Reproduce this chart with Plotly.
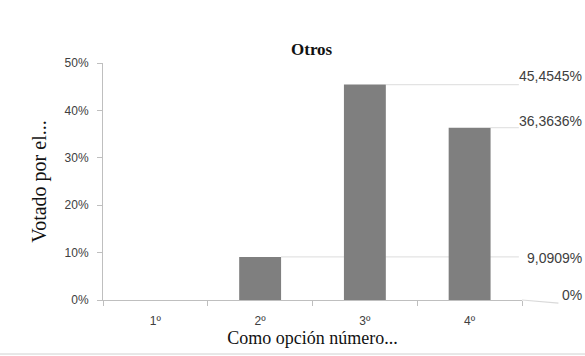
import plotly.graph_objects as go

# Survey result: share of votes for "Otros" by ranking position
categories = ["1º", "2º", "3º", "4º"]
shares = [0.0, 0.090909, 0.454545, 0.363636]
y_ticks = [0.0, 0.1, 0.2, 0.3, 0.4, 0.5]

W, H = 585, 356
L, R, T, B = 103, 63, 63, 56
plot_w = W - L - R
plot_h = H - T - B


def pct_label(v):
    s = f"{v * 100:.4f}".rstrip("0").rstrip(".")
    return s.replace(".", ",") + "%"


fig = go.Figure()
fig.add_trace(go.Bar(
    x=categories,
    y=shares,
    width=0.4,
    marker=dict(color="#7f7f7f", line=dict(width=0)),
    hoverinfo="skip",
))

shapes = []
annotations = []
label_right = (W - 1 - L) / plot_w
label_shift = [5, -1, 9, 6.5]
label_font = dict(family="Liberation Sans", size=14, color="#404040")
for i, v in enumerate(shares):
    txt = pct_label(v)
    if v > 0:
        # horizontal leader line from the bar top to the right edge
        shapes.append(dict(
            type="line", xref="x", yref="y", layer="below",
            x0=i + 0.2, x1=3.47, y0=v, y1=v,
            line=dict(color="#e3e3e3", width=1.2),
        ))
    else:
        shapes.append(dict(
            type="line", xref="x domain", yref="y domain",
            x0=1.0, x1=1.087, y0=0.0, y1=-0.013,
            line=dict(color="#d9d9d9", width=1.2),
        ))
    annotations.append(dict(
        xref="paper", yref="y", x=label_right, y=v,
        xanchor="right", yanchor="middle", yshift=label_shift[i],
        text=txt, showarrow=False, font=label_font,
    ))

# thin rule along the bottom of the page
rule_y = -(H - 2 - T - plot_h) / plot_h
shapes.append(dict(
    type="line", xref="paper", yref="paper",
    x0=-L / plot_w, x1=(W - L) / plot_w, y0=rule_y, y1=rule_y,
    line=dict(color="#d0d0d0", width=1),
))

annotations.append(dict(
    xref="paper", yref="paper", x=(312 - L) / plot_w, y=1 + (T - 49) / plot_h,
    xanchor="center", yanchor="middle", text="<b>Otros</b>", showarrow=False,
    font=dict(family="Liberation Serif", size=17, color="#111111"),
))

fig.update_layout(
    width=W, height=H,
    margin=dict(l=L, r=R, t=T, b=B),
    paper_bgcolor="white", plot_bgcolor="white",
    showlegend=False,
    shapes=shapes,
    annotations=annotations,
    xaxis=dict(
        type="category",
        range=[-0.5, 3.5],
        showline=True, linecolor="#bfbfbf", linewidth=1,
        ticks="outside", tickson="boundaries", ticklen=5, tickcolor="#bfbfbf",
        ticklabelstandoff=10,
        showgrid=False, zeroline=False,
        tickfont=dict(family="Liberation Sans", size=12, color="#404040"),
        title=dict(text="Como opción número...", standoff=0,
                   font=dict(family="Liberation Serif", size=18, color="#111111")),
    ),
    yaxis=dict(
        range=[0, 0.5],
        tickvals=y_ticks, tickformat=".0%",
        showline=True, linecolor="#bfbfbf", linewidth=1,
        ticks="outside", ticklen=5, tickcolor="#bfbfbf",
        ticklabelstandoff=6,
        showgrid=False, zeroline=False,
        tickfont=dict(family="Liberation Sans", size=12, color="#404040"),
        title=dict(text="Votado por el...", standoff=12,
                   font=dict(family="Liberation Serif", size=20, color="#111111")),
    ),
)

fig.write_html("out.html")
